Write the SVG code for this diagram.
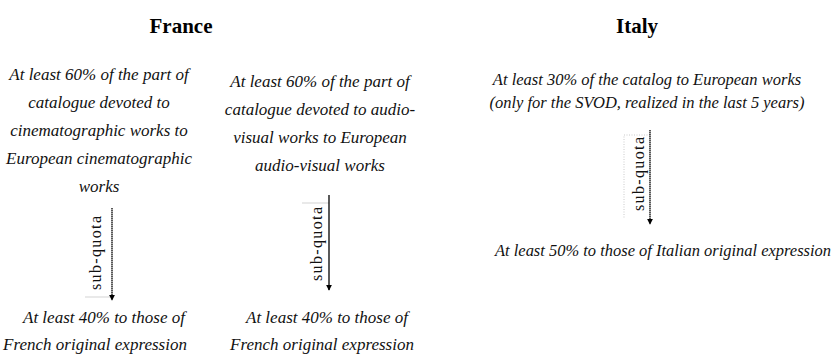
<svg xmlns="http://www.w3.org/2000/svg" width="834" height="355" viewBox="0 0 834 355">
  <style>
    .title { font-family: "Liberation Serif", "Times New Roman", serif; font-weight: bold; font-size: 21px; fill: #000; text-anchor: middle; }
    .quota { font-family: "Liberation Serif", "Times New Roman", serif; font-style: italic; font-size: 17px; fill: #111; text-anchor: middle; }
    .quota-it { font-size: 16.5px; }
    .label { font-family: "Liberation Serif", "Times New Roman", serif; font-size: 16px; fill: #111; text-anchor: middle; }
    .arrow { stroke: #000; stroke-width: 1.3; fill: none; }
    .frame { stroke: #c8c8c8; stroke-width: 0.8; fill: none; }
    .frame-dot { stroke: #bdbdbd; stroke-width: 0.8; fill: none; stroke-dasharray: 1 1.5; }
  </style>
  <defs>
    <marker id="head" viewBox="0 0 8 8" refX="7" refY="4" markerWidth="6" markerHeight="6" markerUnits="userSpaceOnUse" orient="auto">
      <path d="M0,0 L8,4 L0,8 Z" fill="#000"/>
    </marker>
  </defs>
  <rect width="834" height="355" fill="#fff"/>

  <!-- country headings -->
  <g id="france-title"><text class="title" x="181" y="33">France</text></g>
  <g id="italy-title"><text class="title" x="637" y="33">Italy</text></g>

  <!-- France: cinematographic works -->
  <g id="fr-cine">
    <text class="quota" x="99" y="80">At least 60% of the part of</text>
    <text class="quota" x="99" y="108">catalogue devoted to</text>
    <text class="quota" x="99" y="136">cinematographic works to</text>
    <text class="quota" x="99" y="164">European cinematographic</text>
    <text class="quota" x="99" y="192">works</text>
  </g>

  <!-- France: audio-visual works -->
  <g id="fr-av">
    <text class="quota" x="320" y="87">At least 60% of the part of</text>
    <text class="quota" x="320" y="115">catalogue devoted to audio-</text>
    <text class="quota" x="320" y="143">visual works to European</text>
    <text class="quota" x="320" y="171">audio-visual works</text>
  </g>

  <!-- France: sub-quotas -->
  <g id="fr-cine-sub">
    <text class="quota" x="104" y="323">At least 40% to those of</text>
    <text class="quota" x="95" y="350">French original expression</text>
  </g>
  <g id="fr-av-sub">
    <text class="quota" x="327" y="323">At least 40% to those of</text>
    <text class="quota" x="322" y="350">French original expression</text>
  </g>

  <!-- Italy -->
  <g id="it-main">
    <text class="quota quota-it" x="647" y="85">At least 30% of the catalog to European works</text>
    <text class="quota quota-it" x="647" y="108">(only for the SVOD, realized in the last 5 years)</text>
  </g>
  <g id="it-sub">
    <text class="quota quota-it" x="663" y="256" textLength="336" lengthAdjust="spacingAndGlyphs">At least 50% to those of Italian original expression</text>
  </g>

  <!-- sub-quota connectors -->
  <g id="connectors">
    <line class="frame" x1="85" y1="297" x2="112" y2="297"/>
    <line class="arrow" x1="112" y1="208" x2="112" y2="300" stroke-dasharray="1.4 0.6" marker-end="url(#head)"/>
    <text class="label" transform="translate(101,253) rotate(-90)" textLength="74" lengthAdjust="spacing">sub-quota</text>

    <line class="frame" x1="302" y1="203" x2="329" y2="203"/>
    <line class="arrow" x1="329" y1="195" x2="329" y2="290" marker-end="url(#head)"/>
    <text class="label" transform="translate(322,244) rotate(-90)" textLength="74" lengthAdjust="spacing">sub-quota</text>

    <path class="frame-dot" d="M650,135 H624 V218"/>
    <line class="arrow" x1="650" y1="130" x2="650" y2="224" stroke-dasharray="1.4 0.6" marker-end="url(#head)"/>
    <text class="label" transform="translate(644,174) rotate(-90)" textLength="74" lengthAdjust="spacing">sub-quota</text>
  </g>
</svg>
